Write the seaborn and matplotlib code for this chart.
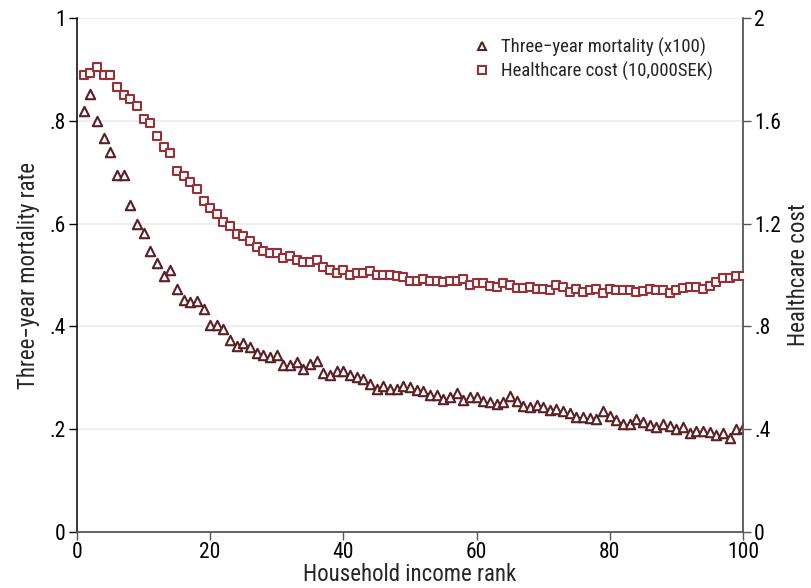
import numpy as np
import pandas as pd
import seaborn as sns
import matplotlib.pyplot as plt
from matplotlib.lines import Line2D

# Income rank percentiles
rank = list(range(1, 101))

# Three-year mortality rate (x100) by income rank
mortality = [
    0.819, 0.853, 0.800, 0.766, 0.739, 0.694, 0.694, 0.637, 0.599, 0.581,
    0.547, 0.524, 0.498, 0.510, 0.472, 0.451, 0.447, 0.449, 0.433, 0.402,
    0.403, 0.394, 0.374, 0.362, 0.368, 0.360, 0.349, 0.345, 0.340, 0.345,
    0.324, 0.324, 0.331, 0.317, 0.326, 0.333, 0.309, 0.305, 0.314, 0.313,
    0.305, 0.302, 0.298, 0.288, 0.279, 0.285, 0.279, 0.279, 0.285, 0.282,
    0.276, 0.274, 0.266, 0.266, 0.259, 0.263, 0.271, 0.257, 0.262, 0.263,
    0.254, 0.252, 0.250, 0.252, 0.265, 0.254, 0.245, 0.244, 0.247, 0.243,
    0.237, 0.240, 0.236, 0.231, 0.223, 0.223, 0.222, 0.219, 0.236, 0.226,
    0.217, 0.211, 0.211, 0.220, 0.214, 0.208, 0.204, 0.210, 0.206, 0.200,
    0.204, 0.193, 0.197, 0.197, 0.195, 0.189, 0.193, 0.183, 0.200, 0.202,
]

# Healthcare cost (10,000 SEK) by income rank
cost = [
    1.779, 1.785, 1.811, 1.777, 1.779, 1.730, 1.702, 1.686, 1.658, 1.608,
    1.590, 1.541, 1.499, 1.474, 1.406, 1.385, 1.362, 1.333, 1.287, 1.259,
    1.237, 1.205, 1.192, 1.158, 1.153, 1.131, 1.110, 1.092, 1.087, 1.087,
    1.066, 1.074, 1.058, 1.052, 1.051, 1.057, 1.032, 1.019, 1.009, 1.019,
    0.999, 1.007, 1.007, 1.014, 0.999, 0.999, 1.001, 0.996, 0.991, 0.975,
    0.978, 0.986, 0.975, 0.975, 0.973, 0.978, 0.975, 0.983, 0.962, 0.970,
    0.968, 0.957, 0.952, 0.968, 0.962, 0.949, 0.949, 0.954, 0.946, 0.947,
    0.942, 0.960, 0.954, 0.934, 0.947, 0.934, 0.942, 0.947, 0.929, 0.944,
    0.942, 0.942, 0.942, 0.934, 0.937, 0.947, 0.942, 0.942, 0.929, 0.942,
    0.949, 0.952, 0.952, 0.947, 0.957, 0.973, 0.988, 0.988, 0.996, 0.996,
]

left_ticks = [0, 0.2, 0.4, 0.6, 0.8, 1.0]
left_labels = ["0", ".2", ".4", ".6", ".8", "1"]
right_ticks = [0, 0.4, 0.8, 1.2, 1.6, 2.0]
right_labels = ["0", ".4", ".8", "1.2", "1.6", "2"]
x_ticks = [0, 20, 40, 60, 80, 100]

df = pd.DataFrame({"rank": rank, "mortality": mortality, "cost": cost})

sns.set_theme(style="white")
plt.rcParams["font.family"] = ["Roboto Condensed", "DejaVu Sans"]

MORT_COLOR = "#5b1f24"
COST_COLOR = "#983038"
GRID_COLOR = "#e6eef0"
FS_TICK = 15.5
FS_LABEL = 16.5

fig = plt.figure(figsize=(8.12, 5.88), dpi=100)
ax = fig.add_axes([0.0948, 0.0952, 0.8202, 0.8742])
ax2 = ax.twinx()

sns.scatterplot(data=df, x="rank", y="mortality", ax=ax, marker="^", s=46,
                facecolor="white", edgecolor=MORT_COLOR, linewidth=1.5, zorder=3)
sns.scatterplot(data=df, x="rank", y="cost", ax=ax2, marker="s", s=40,
                facecolor="white", edgecolor=COST_COLOR, linewidth=1.5, zorder=3)

ax.set_xlim(0, 100)
ax.set_ylim(0, 1)
ax2.set_ylim(0, 2)

ax.set_xticks(x_ticks)
ax.set_xticklabels([str(t) for t in x_ticks])
ax.set_yticks(left_ticks)
ax.set_yticklabels(left_labels)
ax2.set_yticks(right_ticks)
ax2.set_yticklabels(right_labels)

for t in left_ticks[1:]:
    ax.axhline(t, color=GRID_COLOR, lw=1.2, zorder=0)

ax.set_xlabel("Household income rank", fontsize=FS_LABEL, labelpad=0)
ax.set_ylabel("Three\u2212year mortality rate", fontsize=FS_LABEL, labelpad=7)
ax2.set_ylabel("Healthcare cost", fontsize=FS_LABEL, labelpad=4)

for a in (ax, ax2):
    a.spines["top"].set_visible(False)
ax.spines["right"].set_visible(False)
ax2.spines["left"].set_visible(False)
ax2.spines["bottom"].set_visible(False)
ax.spines["left"].set_color("black")
ax.spines["left"].set_linewidth(1.1)
ax.spines["bottom"].set_color("#555555")
ax.spines["bottom"].set_linewidth(1.3)
ax2.spines["right"].set_color("#555555")
ax2.spines["right"].set_linewidth(1.3)

ax.tick_params(axis="both", which="both", direction="out", length=6, width=1,
               labelsize=FS_TICK, pad=2, colors="black", left=True, bottom=True)
ax.tick_params(axis="x", colors="#555555", labelcolor="black", pad=1)
ax2.tick_params(axis="y", direction="out", length=6, width=1, labelsize=FS_TICK,
                pad=2, colors="#555555", labelcolor="black", right=True)

handles = [
    Line2D([], [], linestyle="none", marker="^", markersize=6, markerfacecolor="white",
           markeredgecolor=MORT_COLOR, markeredgewidth=1.5),
    Line2D([], [], linestyle="none", marker="s", markersize=5.5, markerfacecolor="white",
           markeredgecolor=COST_COLOR, markeredgewidth=1.5),
]
leg = ax2.legend(handles, ["Three\u2212year mortality (x100)", "Healthcare cost (10,000SEK)"],
                 loc="upper right", bbox_to_anchor=(0.98, 0.995), frameon=False,
                 fontsize=13.5, handletextpad=0.5, labelspacing=0.25, handlelength=1.0)

fig.savefig("out.png", dpi=100)
